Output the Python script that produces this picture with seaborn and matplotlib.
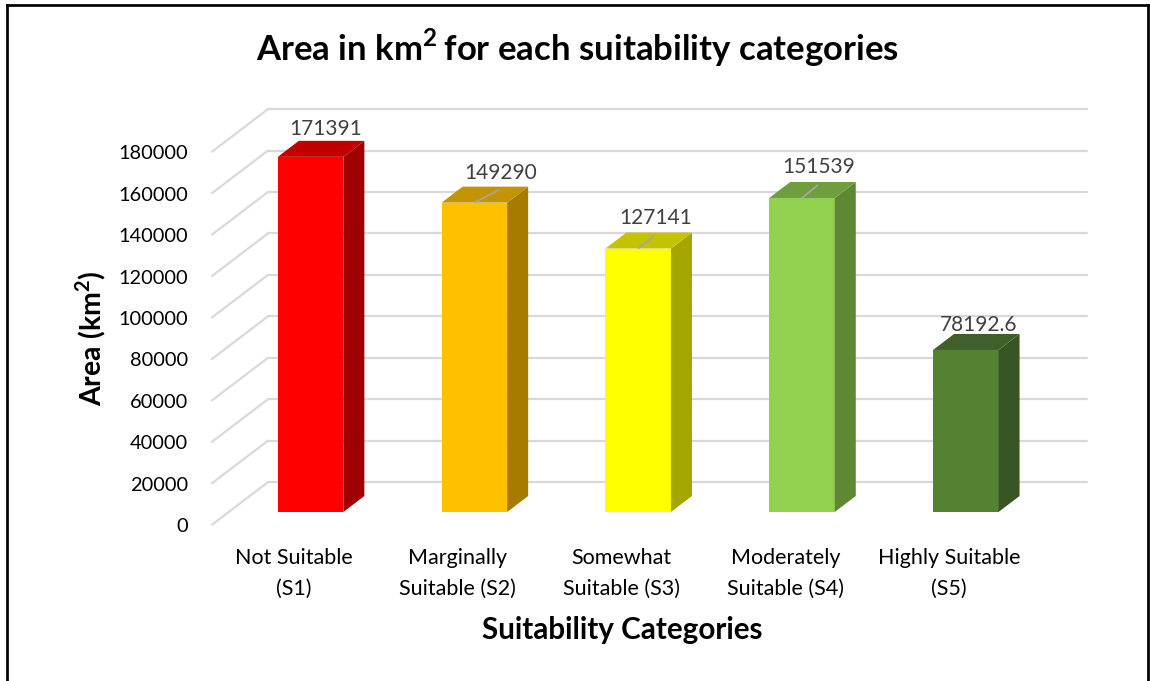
import matplotlib
matplotlib.use("Agg")
import matplotlib.pyplot as plt
from matplotlib.lines import Line2D
from matplotlib.patches import Polygon
from matplotlib.transforms import ScaledTranslation
import pandas as pd
import seaborn as sns

# ---- data -------------------------------------------------------------
categories = [
    "Not Suitable\n(S1)",
    "Marginally\nSuitable (S2)",
    "Somewhat\nSuitable (S3)",
    "Moderately\nSuitable (S4)",
    "Highly Suitable\n(S5)",
]
areas = [171391, 149290, 127141, 151539, 78192.6]
value_labels = ["171391", "149290", "127141", "151539", "78192.6"]
y_ticks = [0, 20000, 40000, 60000, 80000, 100000, 120000, 140000, 160000, 180000]

# ---- colours: front, top and side faces of each column ------------------
front_colors = ["#FF0000", "#FFC000", "#FFFF00", "#92D050", "#548235"]
top_colors = ["#C00000", "#C49300", "#C4C300", "#6E9E3D", "#3F6129"]
side_colors = ["#A00000", "#A67C00", "#A6A600", "#5E8833", "#375623"]
grid_color = "#D9D9D9"
label_color = "#404040"

# label nudges (pixels) and which labels get a leader line
label_dx = [15, 26, 17, 17, 13]
label_dy = [28, 30, 31, 31, 25]
leader = [False, True, True, True, False]

sns.set_theme(style="white")
plt.rcParams["font.family"] = ["Lato", "DejaVu Sans"]
plt.rcParams["mathtext.fontset"] = "custom"
plt.rcParams["mathtext.rm"] = "Lato:bold"
plt.rcParams["mathtext.bf"] = "Lato:bold"

W, H = 1150, 681
fig = plt.figure(figsize=(W / 100, H / 100), dpi=100)
fig.patch.set_facecolor("white")


def fx(px):
    return px / W


def fy(py):
    return 1 - py / H


# plane of the column fronts
ax = fig.add_axes([fx(228.7), (H - 512) / H, 819 / W, 373 / H])
df = pd.DataFrame({"category": categories, "area": areas})
sns.barplot(data=df, x="category", y="area", hue="category",
            palette=front_colors, width=0.4, saturation=1, legend=False,
            linewidth=0, ax=ax, zorder=3)
ax.set_xlim(-0.5, 4.5)
ax.set_ylim(0, 180000)
ax.axis("off")

p0 = ax.transData.transform((0, 0))
p1 = ax.transData.transform((1, 1))
px_x = p1[0] - p0[0]
px_y = p1[1] - p0[1]


def d(dx_px, dy_px):
    """pixel offset -> data offset"""
    return dx_px / px_x, dy_px / px_y


def shift(dx_px, dy_px):
    return ax.transData + ScaledTranslation(dx_px / 100, dy_px / 100, fig.dpi_scale_trans)


# depth offsets (pixels, y up)
depth = (21, 16)          # column depth
back = (39.3, 29.9)       # back wall
front = (-16.7, -12.7)    # front edge of side wall

bdx, bdy = d(*back)
fdx, fdy = d(*front)

# gridlines on back wall and side wall
for v in y_ticks:
    ax.plot([-0.5 + bdx, 4.5 + bdx], [v + bdy, v + bdy], color=grid_color,
            lw=1.6, clip_on=False, zorder=1)
    ax.plot([-0.5 + fdx, -0.5 + bdx], [v + fdy, v + bdy], color=grid_color,
            lw=1.6, clip_on=False, zorder=1)

# 3-D side and top faces of the columns
ddx, ddy = d(*depth)
for i, cont in enumerate(ax.containers):
    for bar in cont:
        x0, w, h = bar.get_x(), bar.get_width(), bar.get_height()
        side = Polygon([(x0 + w, 0), (x0 + w + ddx, ddy), (x0 + w + ddx, h + ddy), (x0 + w, h)],
                       closed=True, facecolor=side_colors[i], edgecolor="none",
                       zorder=3, clip_on=False)
        top = Polygon([(x0, h), (x0 + w, h), (x0 + w + ddx, h + ddy), (x0 + ddx, h + ddy)],
                      closed=True, facecolor=top_colors[i], edgecolor="none",
                      zorder=3, clip_on=False)
        ax.add_patch(side)
        ax.add_patch(top)

# value labels and leader lines
for i, (v, lab) in enumerate(zip(areas, value_labels)):
    ax.text(i, v, lab, transform=shift(label_dx[i], label_dy[i]), ha="center",
            va="center", fontsize=15, color=label_color, zorder=5, clip_on=False)
    if leader[i]:
        lx, ly = d(label_dx[i] - 1, 13)
        ax.plot([i, i + lx], [v, v + ly], color="#A6A6A6", lw=1.3,
                zorder=4, clip_on=False, solid_capstyle="butt")

# category labels along the front edge
for i, cat in enumerate(categories):
    ax.text(i, 0, cat, transform=shift(-16.5, -61.5), ha="center", va="center",
            fontsize=15.5, color="black", linespacing=1.65, clip_on=False)

# value axis labels on the front edge
for v in y_ticks:
    ax.text(-0.5, v, f"{v}", transform=shift(front[0] - 24, front[1] - 2),
            ha="right", va="center", fontsize=14.4, color="black", clip_on=False)

# titles
fig.text(fx(578), fy(48), r"Area in km$^{\mathbf{2}}\,$for each suitability categories",
         ha="center", va="center", fontsize=25, fontweight="bold", color="black")
fig.text(fx(91), fy(338), r"Area (km$^{\mathbf{2}}$)", rotation=90,
         ha="center", va="center", fontsize=20.5, fontweight="bold", color="black")
fig.text(fx(622), fy(630), "Suitability Categories", ha="center", va="center",
         fontsize=21.3, fontweight="bold", color="black")

# outer frame (left, top, right)
lw = 1.95
fig.add_artist(Line2D([fx(6.7), fx(6.7)], [0, fy(5)], color="black", lw=lw,
                      solid_capstyle="projecting"))
fig.add_artist(Line2D([fx(6.7), fx(1148)], [fy(5), fy(5)], color="black", lw=lw,
                      solid_capstyle="projecting"))
fig.add_artist(Line2D([fx(1148), fx(1148)], [0, fy(5)], color="black", lw=lw,
                      solid_capstyle="projecting"))

fig.savefig("out.png", dpi=100, facecolor="white")
